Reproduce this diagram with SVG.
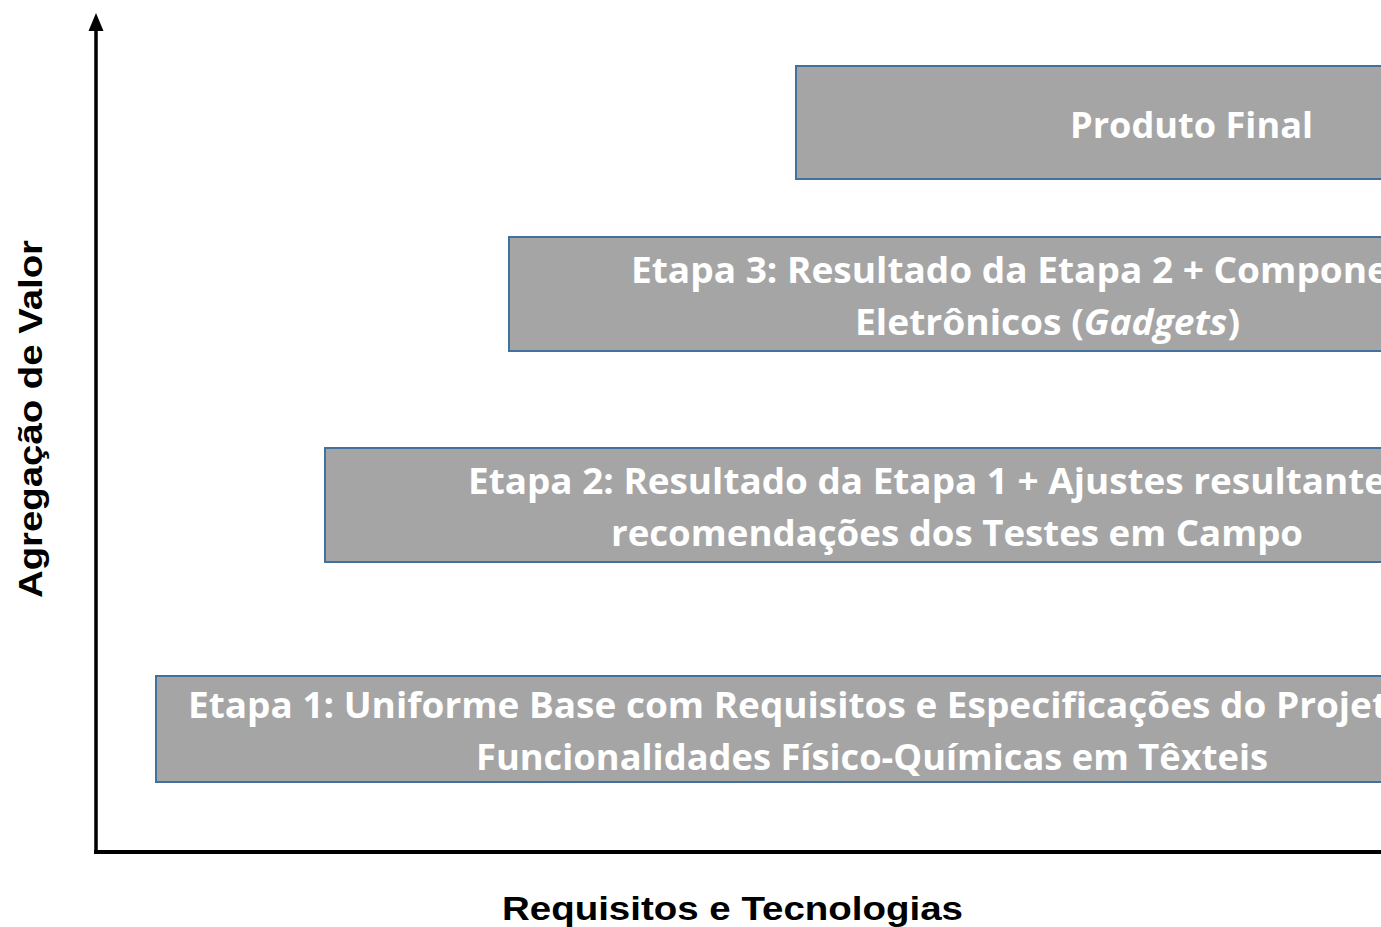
<svg xmlns="http://www.w3.org/2000/svg" width="1381" height="927" viewBox="0 0 1381 927">
<style>
.box{fill:#A5A5A5;stroke:#41719C;stroke-width:2}
.t{font-family:"Open Sans","Noto Sans",sans-serif;font-weight:bold;font-size:36px;fill:#FFFFFF}
.ax{font-family:"Liberation Sans",Arial,sans-serif;font-weight:bold;font-size:34px;fill:#000000}
</style>
<rect width="1381" height="927" fill="#FFFFFF"/>
<g id="connectors">
<line x1="96" y1="852" x2="96" y2="28" stroke="#000" stroke-width="3.5"/>
<polygon points="96,13 103.5,31 88.5,31" fill="#000"/>
<line x1="94" y1="852" x2="1381" y2="852" stroke="#000" stroke-width="4"/>
</g>
<g id="stage4">
<rect class="box" x="796" y="66" width="620" height="113"/>
<text class="t" x="1070" y="138" textLength="243" lengthAdjust="spacingAndGlyphs">Produto Final</text>
</g>
<g id="stage3">
<rect class="box" x="509" y="237" width="900" height="114"/>
<text class="t" x="631" y="283" textLength="758" lengthAdjust="spacingAndGlyphs">Etapa 3: Resultado da Etapa 2 + Compone</text>
<text class="t" x="855" y="335" textLength="385" lengthAdjust="spacingAndGlyphs">Eletrônicos (<tspan font-style="italic">Gadgets</tspan>)</text>
</g>
<g id="stage2">
<rect class="box" x="325" y="448" width="1090" height="114"/>
<text class="t" x="468" y="494" textLength="918" lengthAdjust="spacingAndGlyphs">Etapa 2: Resultado da Etapa 1 + Ajustes resultante</text>
<text class="t" x="611" y="546" textLength="692" lengthAdjust="spacingAndGlyphs">recomendações dos Testes em Campo</text>
</g>
<g id="stage1">
<rect class="box" x="156" y="676" width="1260" height="106"/>
<text class="t" x="188" y="718" textLength="1200" lengthAdjust="spacingAndGlyphs">Etapa 1: Uniforme Base com Requisitos e Especificações do Projet</text>
<text class="t" x="476" y="770" textLength="792" lengthAdjust="spacingAndGlyphs">Funcionalidades Físico-Químicas em Têxteis</text>
</g>
<g id="yLabel">
<text class="ax" transform="translate(42,419) rotate(-90)" text-anchor="middle" textLength="358" lengthAdjust="spacingAndGlyphs">Agregação de Valor</text>
</g>
<g id="xLabel">
<text class="ax" x="502" y="920" textLength="461" lengthAdjust="spacingAndGlyphs">Requisitos e Tecnologias</text>
</g>
</svg>
